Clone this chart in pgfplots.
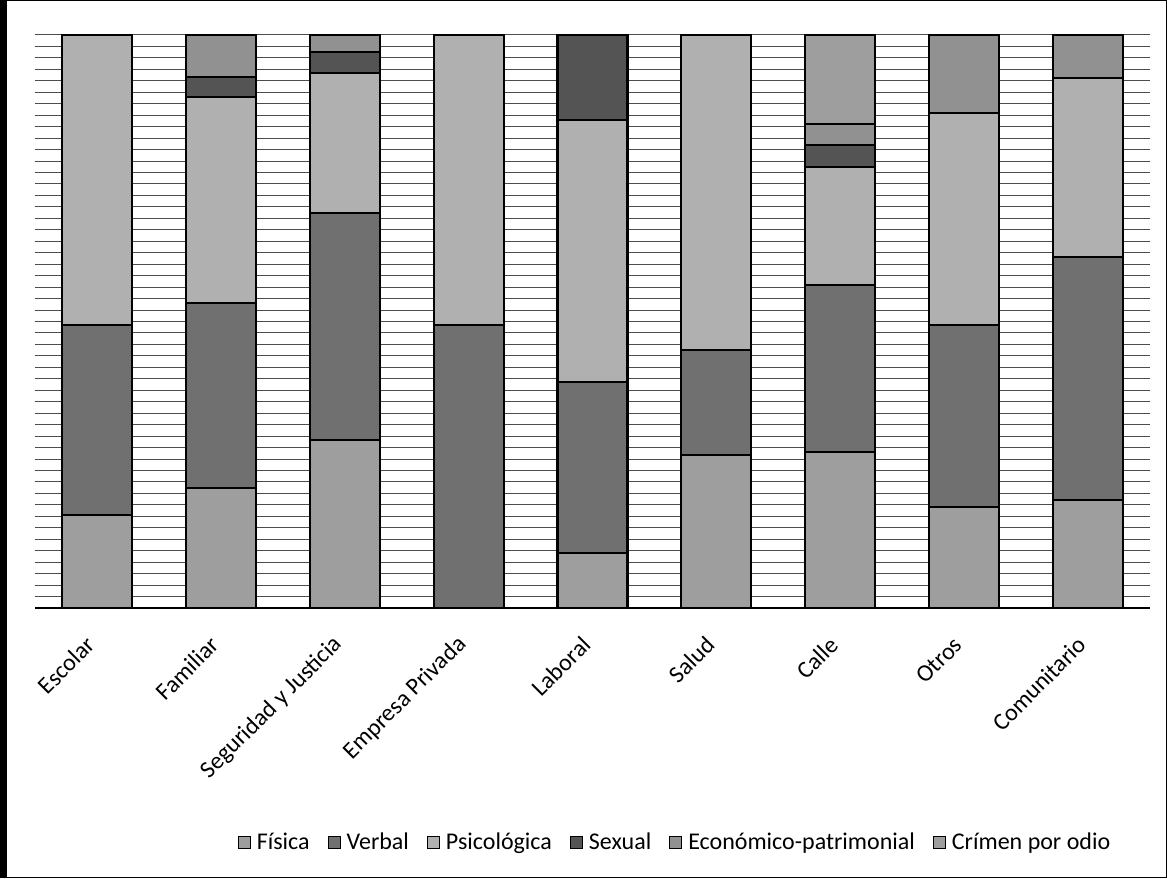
\documentclass[border=0pt]{standalone}
\usepackage{pgfplots}
\pgfplotsset{compat=1.18}
\usepackage{fontspec}
\setmainfont{Carlito}
\definecolor{cF}{gray}{0.62}
\definecolor{cV}{gray}{0.44}
\definecolor{cP}{gray}{0.69}
\definecolor{cS}{gray}{0.33}
\definecolor{cE}{gray}{0.57}
\definecolor{cC}{gray}{0.62}
\begin{document}
\begin{tikzpicture}[x=1pt,y=1pt]
\path (0,0) rectangle (583.5,439);
\draw[line width=0.6pt] (0.3,0.3) rectangle (583.2,438.7);
\fill[black] (0,0) rectangle (3.5,439);
\begin{axis}[
  at={(17.5pt,135pt)}, anchor=south west,
  scale only axis, width=557.5pt, height=286.5pt,
  ybar stacked, bar width=35pt,
  xmin=-0.5, xmax=8.5, ymin=0, ymax=100,
  xtick={0,...,8},
  xticklabels={Escolar,Familiar,Seguridad y Justicia,Empresa Privada,Laboral,Salud,Calle,Otros,Comunitario},
  xticklabel style={xshift=-0.5pt, yshift=-14pt, rotate=45, anchor=east, font=\fontsize{12}{14}\selectfont},
  ytick={0,2,...,100}, yticklabels={},
  ymajorgrids, major grid style={black!70, line width=0.5pt},
  axis lines*=left,
  x axis line style={black, line width=1.1pt},
  y axis line style={draw=none},
  tick style={draw=none},
  every axis plot/.append style={draw=black, line width=1.1pt},
  legend columns=6,
  legend style={draw=none, fill=none, at={(0.574,-0.41)}, anchor=center,
    font=\fontsize{12}{14}\selectfont,
    nodes={inner xsep=1pt},
    /tikz/every odd column/.append style={column sep=2pt},
    /tikz/every even column/.append style={column sep=8pt}},
  legend image code/.code={\draw[#1, line width=0.5pt] (0pt,-3pt) rectangle (6pt,3pt);},
]
\addplot[fill=cF] coordinates {(0,16.2) (1,20.9) (2,29.3) (3,0) (4,9.6) (5,26.7) (6,27.2) (7,17.6) (8,18.8)};
\addplot[fill=cV] coordinates {(0,33.2) (1,32.3) (2,39.6) (3,49.4) (4,29.8) (5,18.3) (6,29.2) (7,31.8) (8,42.5)};
\addplot[fill=cP] coordinates {(0,50.6) (1,36.0) (2,24.5) (3,50.6) (4,45.8) (5,55.0) (6,20.6) (7,37.0) (8,31.2)};
\addplot[fill=cS] coordinates {(0,0) (1,3.5) (2,3.6) (3,0) (4,14.8) (5,0) (6,3.8) (7,0) (8,0)};
\addplot[fill=cE] coordinates {(0,0) (1,7.3) (2,3.0) (3,0) (4,0) (5,0) (6,3.7) (7,13.6) (8,7.5)};
\addplot[fill=cC] coordinates {(0,0) (1,0) (2,0) (3,0) (4,0) (5,0) (6,15.5) (7,0) (8,0)};
\legend{Física,Verbal,Psicológica,Sexual,Económico-patrimonial,Crímen por odio}
\end{axis}
\end{tikzpicture}
\end{document}
